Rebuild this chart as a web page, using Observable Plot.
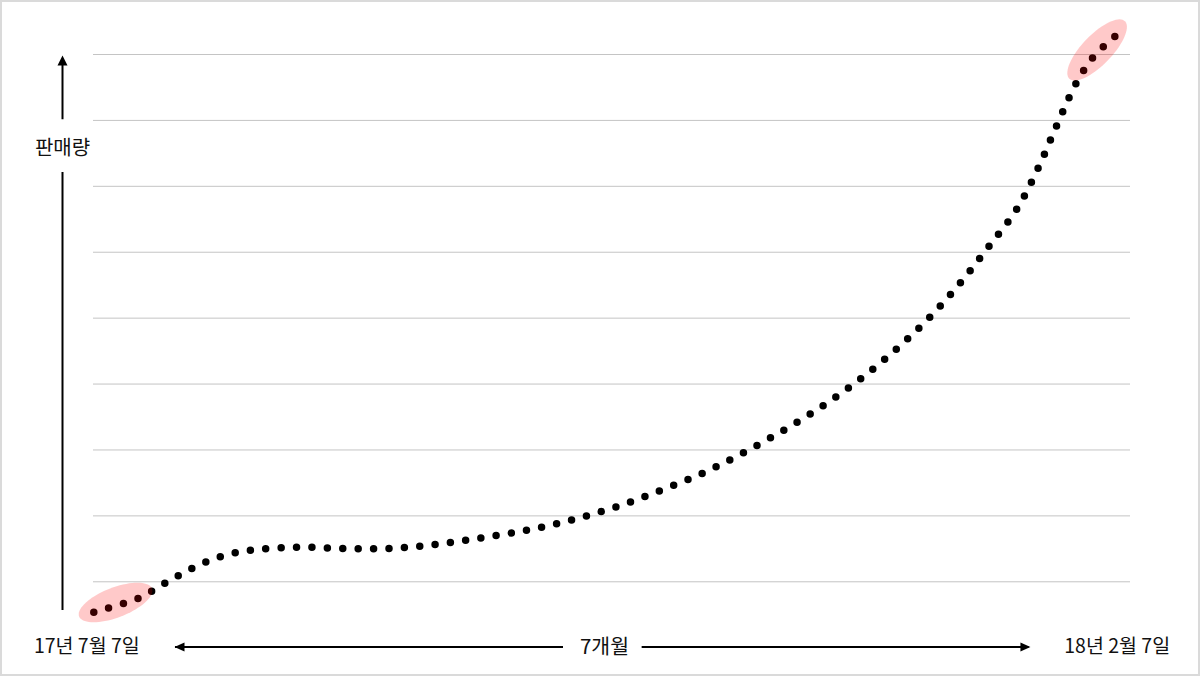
<!DOCTYPE html>
<html>
<head>
<meta charset="utf-8">
<script src="https://cdn.jsdelivr.net/npm/d3@7"></script>
<script src="https://cdn.jsdelivr.net/npm/@observablehq/plot@0.6"></script>
<style>
  html, body { margin: 0; padding: 0; background: #fff; }
  #chart svg { display: block; outline: 2px solid #dadada; outline-offset: -2px; }
</style>
</head>
<body>
<div id="chart"></div>
<script>
// ---- data (months since 17.07.07, relative sales) ----
const curveMonths = [0, 0.306, 0.489, 0.676, 0.870, 1.076, 1.391, 1.709, 2.024, 2.342, 2.657, 2.970, 3.279, 3.582, 3.879, 4.174, 4.455, 4.733, 5.003, 5.261, 5.503, 5.732, 5.942, 6.138, 6.328, 6.474, 6.600, 6.733, 6.849, 7.0];
const curveSales  = [0.539, 0.751, 0.979, 1.206, 1.384, 1.479, 1.525, 1.505, 1.505, 1.566, 1.667, 1.783, 1.941, 2.138, 2.381, 2.648, 2.962, 3.306, 3.679, 4.089, 4.535, 5.020, 5.545, 6.098, 6.664, 7.286, 7.927, 8.565, 8.959, 9.278];
const gridValues = [1, 2, 3, 4, 5, 6, 7, 8, 9];
const highlightMonths = [0.149, 6.876];
const highlightSales = [0.686, 9.069];
const startLabel = "17년 7월 7일";
const endLabel = "18년 2월 7일";
const spanLabel = "7개월";
const yLabel = "판매량";

const curve = curveMonths.map((m, i) => ({m, v: curveSales[i]}));

// ---- annotation geometry (axis arrows) ----
const yAxisAt = -0.2145;
const xAxisAt = 0.01;

function ellipseSymbol(a, b, deg) {
  const phi = deg * Math.PI / 180;
  return {
    draw(ctx) {
      const n = 72;
      for (let i = 0; i <= n; i++) {
        const t = (i / n) * 2 * Math.PI;
        const x = a * Math.cos(t) * Math.cos(phi) - b * Math.sin(t) * Math.sin(phi);
        const y = a * Math.cos(t) * Math.sin(phi) + b * Math.sin(t) * Math.cos(phi);
        if (i === 0) ctx.moveTo(x, y); else ctx.lineTo(x, y);
      }
      ctx.closePath();
    }
  };
}
const headUp = {draw(ctx) { ctx.moveTo(0, 0); ctx.lineTo(-5, 10); ctx.lineTo(5, 10); ctx.closePath(); }};
const headLeft = {draw(ctx) { ctx.moveTo(0, 0); ctx.lineTo(10, -4.5); ctx.lineTo(10, 4.5); ctx.closePath(); }};
const headRight = {draw(ctx) { ctx.moveTo(0, 0); ctx.lineTo(-10, -4.5); ctx.lineTo(-10, 4.5); ctx.closePath(); }};

const font = "'Noto Sans CJK KR', 'Noto Sans', sans-serif";

const plot = Plot.plot({
  width: 1200,
  height: 676,
  marginLeft: 93,
  marginRight: 70,
  marginTop: 0,
  marginBottom: 0,
  style: {fontFamily: font, background: "#fff", overflow: "visible"},
  x: {domain: [0, 7], range: [93.3, 1114.7], axis: null},
  y: {domain: [0, 9], range: [647.2, 54.0], axis: null},
  marks: [
    Plot.ruleY(gridValues, {stroke: "#c4c4c4", strokeWidth: 1}),
    Plot.line(curve, {x: "m", y: "v", curve: "catmull-rom", stroke: "#000", strokeWidth: 7.5, strokeLinecap: "round", strokeDasharray: "0 15.4"}),
    Plot.dot([0], {x: highlightMonths[0], y: highlightSales[0], symbol: ellipseSymbol(39, 15, -21), fill: "#f00", fillOpacity: 0.21, stroke: null}),
    Plot.dot([0], {x: highlightMonths[1], y: highlightSales[1], symbol: ellipseSymbol(40, 15, -46), fill: "#f00", fillOpacity: 0.21, stroke: null}),
    // y axis arrow
    Plot.ruleX([yAxisAt], {y1: 0.564, y2: 7.21, stroke: "#000", strokeWidth: 2}),
    Plot.ruleX([yAxisAt], {y1: 8.01, y2: 8.9, stroke: "#000", strokeWidth: 2}),
    Plot.dot([0], {x: yAxisAt, y: 8.985, symbol: headUp, fill: "#000", stroke: null}),
    Plot.text([yLabel], {x: yAxisAt, y: 7.574, text: d => d, fontSize: 20, fill: "#111"}),
    // x axis arrow
    Plot.ruleY([xAxisAt], {x1: 0.56, x2: 3.219, stroke: "#000", strokeWidth: 2}),
    Plot.ruleY([xAxisAt], {x1: 3.758, x2: 6.41, stroke: "#000", strokeWidth: 2}),
    Plot.dot([0], {x: 0.553, y: xAxisAt, symbol: headLeft, fill: "#000", stroke: null}),
    Plot.dot([0], {x: 6.419, y: xAxisAt, symbol: headRight, fill: "#000", stroke: null}),
    Plot.text([spanLabel], {x: 3.5, y: xAxisAt, text: d => d, fontSize: 20.5, fill: "#111"}),
    Plot.text([startLabel], {x: 0, y: xAxisAt, dx: -7, text: d => d, fontSize: 19.5, fill: "#111"}),
    Plot.text([endLabel], {x: 7, y: xAxisAt, dx: 2, text: d => d, fontSize: 19.5, fill: "#111"})
  ]
});

document.getElementById("chart").appendChild(plot);

// fit the dot spacing so the dotted curve starts and ends on a dot (81 gaps)
const linePath = plot.querySelector('g[aria-label="line"] path');
if (linePath && linePath.getTotalLength) {
  const L = linePath.getTotalLength();
  linePath.setAttribute("stroke-dasharray", `0 ${(L / 81 - 0.01).toFixed(4)}`);
}
</script>
</body>
</html>
